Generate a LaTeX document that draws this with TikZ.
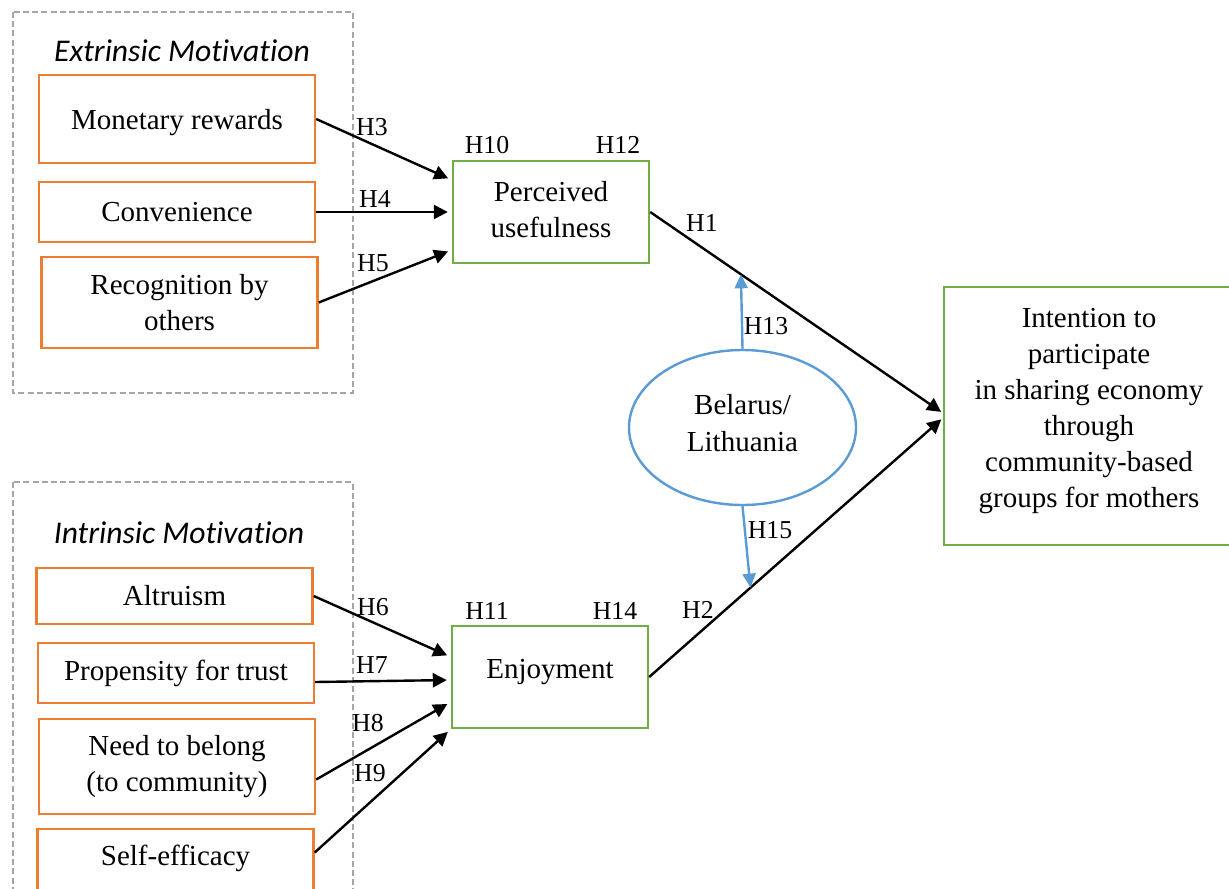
\documentclass[tikz,border=0pt]{standalone}
\usepackage{fontspec}
\setmainfont{Liberation Serif}
\newfontfamily\califont[Ligatures = NoCommon]{Carlito}
\usetikzlibrary{arrows.meta}
\usetikzlibrary{shapes}
\usetikzlibrary{calc}

\definecolor{boxorange}{RGB}{237,125,49}
\definecolor{boxgreen}{RGB}{112,173,71}
\definecolor{boxblue}{RGB}{91,155,213}
\definecolor{dashgray}{RGB}{166,166,166}

\begin{document}
\begin{tikzpicture}[x = 0.5pt, y = -0.5pt]
\tikzstyle{OrangeBox}=[shape = rectangle,
                       draw = boxorange,
                       line width = 1.2pt,
                       minimum width = 138pt,
                       align = center,
                       font = \fontsize{14.5}{18}\selectfont]
\tikzstyle{GreenBox}=[OrangeBox, draw = boxgreen, minimum width = 98pt, minimum height = 51pt]
\tikzstyle{HLabel}=[inner sep = 0pt, font = \fontsize{12.9}{15}\selectfont]
\tikzstyle{GroupTitle}=[inner sep = 0pt, font = \califont\itshape\fontsize{15.8}{18}\selectfont]
\tikzstyle{GroupBox}=[draw = dashgray, line width = 1pt, dash pattern = on 3pt off 1.6pt]
\tikzstyle{Path}=[-{Triangle[length = 7pt, width = 7pt]}, line width = 1.2pt, shorten > = 2pt]
\tikzstyle{BluePath}=[-{Triangle[length = 7pt, width = 6.5pt]}, line width = 1.2pt, draw = boxblue, fill = boxblue]
\useasboundingbox (0,0) rectangle (1229,888);
% groups
\draw[GroupBox] (13,12) rectangle (353,393);
\draw[GroupBox] (13,482) rectangle (353,900);
\node[GroupTitle] (t1) at (182,51) {Extrinsic Motivation};
\node[GroupTitle] (t2) at (179,533) {Intrinsic Motivation};
% extrinsic
\node[OrangeBox, minimum height = 44pt, text depth = 0pt] (e1) at (177,119) {Monetary rewards};
\node[OrangeBox, minimum height = 30pt] (e2) at (177,212) {Convenience};
\node[OrangeBox, minimum height = 45.5pt] (e3) at (179.5,302.5) {Recognition by\\others};
% intrinsic
\node[OrangeBox, minimum height = 28pt] (i1) at (174.5,596) {Altruism};
\node[OrangeBox, minimum height = 30pt] (i2) at (176,673) {Propensity for trust};
\node[OrangeBox, minimum height = 47.5pt] (i3) at (177,766.5) {Need to belong\\(to community)};
\node[OrangeBox, minimum height = 32.5pt, text depth = 6pt] (i4) at (175.5,861.5) {Self-efficacy};
% mediators and outcome
\node[GreenBox, text depth = 3pt] (pu) at (551,212) {Perceived\\usefulness};
\node[GreenBox, text depth = 8.2pt] (enj) at (550,677) {Enjoyment};
\node[GreenBox, minimum width = 145pt, minimum height = 129pt, text depth = 8.2pt] (int) at (1089,416)
  {Intention to\\participate\\in sharing economy\\through\\community-based\\groups for mothers};
\node[ellipse, draw = boxblue, line width = 1.2pt, minimum width = 113.5pt, minimum height = 77.5pt,
      align = center, text depth = 5pt, font = \fontsize{14.5}{18.5}\selectfont] (bl) at (742.5,427.5) {Belarus/\\Lithuania};
% paths
\draw[Path] (e1.east) -- ([yshift = 16pt]pu.west);
\draw[Path] (e2.east) -- (pu.west);
\draw[Path] (e3.east) -- ([yshift = -19pt]pu.west);
\draw[Path] (i1.east) -- ([yshift = 10pt]enj.west);
\draw[Path] ([yshift = -4.5pt]i2.east) -- ([yshift = -1.5pt]enj.west);
\draw[Path] ([yshift = -6.5pt]i3.east) -- ([yshift = -12.5pt]enj.west);
\draw[Path] ([yshift = 4.5pt]i4.east) -- (enj.south west);
\draw[Path, shorten > = 1pt] (pu.east) -- ([yshift = 1.5pt]int.west);
\draw[Path, shorten > = 1pt] (enj.east) -- ([yshift = -1pt]int.west);
\coordinate (m1) at ($(pu.east)!0.31!([yshift = 1.5pt]int.west)$);
\coordinate (m2) at ($(enj.east)!0.345!([yshift = -1pt]int.west)$);
\draw[BluePath] (bl.north) -- (m1);
\draw[BluePath] (bl.south) -- (m2);
% labels
\node[HLabel] (h3) at (372,127) {H3};
\node[HLabel] (h4) at (375,199) {H4};
\node[HLabel] (h5) at (373,263) {H5};
\node[HLabel] (h10) at (487,145) {H10};
\node[HLabel] (h12) at (618,145) {H12};
\node[HLabel] (h1) at (702,223) {H1};
\node[HLabel] (h13) at (766,326) {H13};
\node[HLabel] (h15) at (770,530) {H15};
\node[HLabel] (h2) at (698,610) {H2};
\node[HLabel] (h6) at (373,607) {H6};
\node[HLabel] (h7) at (372,665) {H7};
\node[HLabel] (h8) at (368,723) {H8};
\node[HLabel] (h9) at (370,773) {H9};
\node[HLabel] (h11) at (487,611) {H11};
\node[HLabel] (h14) at (615,611) {H14};
\end{tikzpicture}
\end{document}
